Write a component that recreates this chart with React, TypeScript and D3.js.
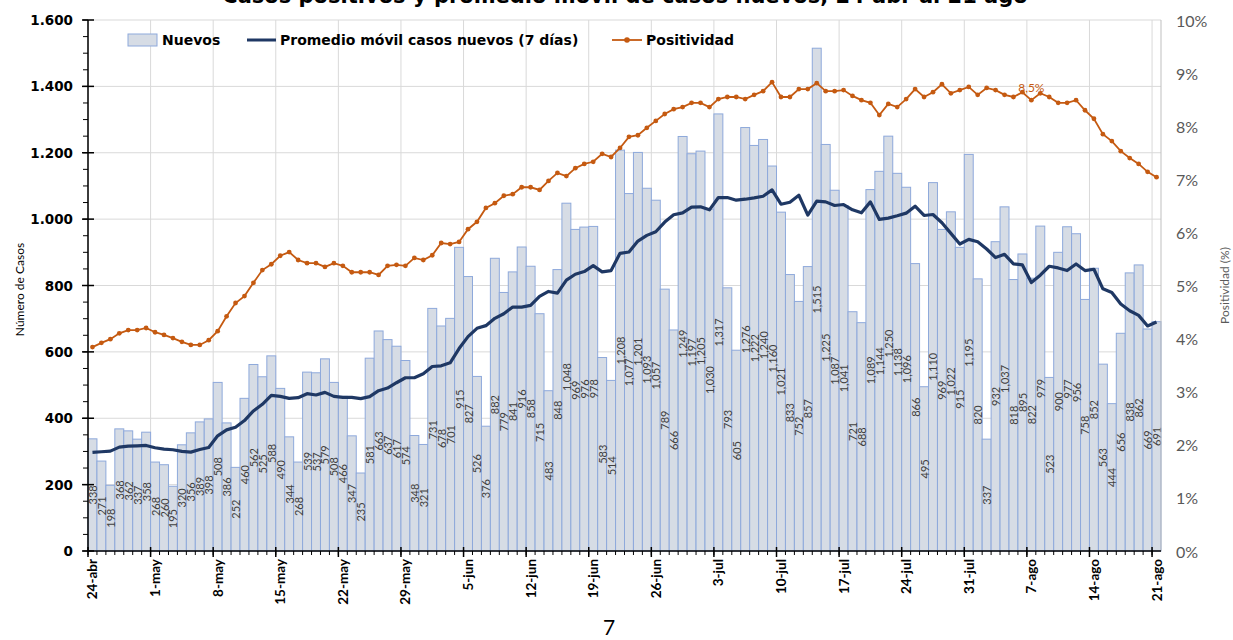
import React from "react";
import * as d3 from "d3";

const weekLabels = ["24-abr","1-may","8-may","15-may","22-may","29-may","5-jun","12-jun","19-jun","26-jun","3-jul","10-jul","17-jul","24-jul","31-jul","7-ago","14-ago","21-ago"];

const nuevos = [
  338,271,198,368,362,337,358,268,260,195,
  320,356,389,398,508,386,252,460,562,525,
  588,490,344,268,539,537,579,508,466,347,
  235,581,663,637,617,574,348,321,731,678,
  701,915,827,526,376,882,779,841,916,858,
  715,483,848,1048,969,976,978,583,514,1208,
  1077,1201,1093,1057,789,666,1249,1197,1205,1030,
  1317,793,605,1276,1222,1240,1160,1021,833,752,
  857,1515,1225,1087,1041,721,688,1089,1144,1250,
  1138,1096,866,495,1110,969,1022,915,1195,820,
  337,932,1037,818,895,822,979,523,900,977,
  956,758,852,563,444,656,838,862,669,691
];

const promedio = [
  297,299,301,313,316,317,318,311,307,305,
  300,298,306,312,347,365,373,393,422,442,
  469,466,460,462,474,470,478,466,463,463,
  459,465,483,491,507,522,522,534,556,558,
  567,610,646,671,679,701,715,735,735,740,
  767,782,777,816,834,842,860,841,845,897,
  901,934,951,962,991,1013,1019,1036,1037,1028,
  1065,1065,1057,1060,1064,1069,1088,1045,1051,1072,
  1012,1054,1052,1041,1044,1028,1019,1052,999,1003,
  1010,1018,1039,1011,1014,989,957,925,939,932,
  910,884,894,865,862,809,831,858,853,845,
  865,845,849,790,779,744,724,710,678,690
];

const positividad = [
  3.84,3.92,3.99,4.10,4.16,4.16,4.20,4.12,4.07,4.01,
  3.94,3.88,3.88,3.97,4.14,4.42,4.67,4.80,5.05,5.29,
  5.40,5.56,5.63,5.48,5.42,5.42,5.35,5.42,5.37,5.25,
  5.25,5.25,5.20,5.37,5.39,5.37,5.52,5.48,5.57,5.80,
  5.78,5.82,6.06,6.20,6.46,6.55,6.69,6.72,6.85,6.85,
  6.80,6.97,7.12,7.06,7.21,7.29,7.33,7.48,7.42,7.59,
  7.80,7.83,7.97,8.10,8.23,8.32,8.36,8.44,8.44,8.36,
  8.51,8.55,8.55,8.51,8.59,8.66,8.83,8.55,8.55,8.70,
  8.70,8.81,8.66,8.66,8.68,8.57,8.49,8.44,8.21,8.42,
  8.36,8.51,8.70,8.55,8.64,8.79,8.62,8.68,8.74,8.59,
  8.72,8.68,8.59,8.55,8.64,8.49,8.62,8.55,8.44,8.44,
  8.49,8.30,8.14,7.85,7.72,7.53,7.40,7.29,7.14,7.04
];

const leftTicks = [0,200,400,600,800,1000,1200,1400,1600];
const rightTicks = [0,1,2,3,4,5,6,7,8,9,10];
const highlightIndex = 105;
const highlightLabel = "8,5%";
const titleText = "Casos positivos y promedio móvil de casos nuevos, 24 abr al 21 ago";

const W = 1233, H = 640;
const X0 = 88, X1 = 1161, Y0 = 551, Y1 = 20;
const FONT = "Lato, 'Open Sans', sans-serif";
const DV = "'DejaVu Sans', Verdana, sans-serif";

export default function App() {
  const idx = d3.range(nuevos.length);
  const x = d3.scaleBand<number>().domain(idx).range([X0, X1]).padding(0);
  const y = d3.scaleLinear().domain([0, 1600]).range([Y0, Y1]);
  const yr = d3.scaleLinear().domain([0, 10]).range([Y0, Y1]);
  const bw = x.bandwidth();
  const cx = (i: number) => (x(i) as number) + bw / 2;
  const fmtES = (v: number) => d3.format(",")(v).replace(/,/g, ".");
  const fmtEN = d3.format(",");

  const avgLine = d3.line<number>().x((_, i) => cx(i)).y((d) => y(d));
  const posLine = d3.line<number>().x((_, i) => cx(i)).y((d) => yr(d));

  const minorLeft = d3.range(0, 1601, 50);
  const weekIdx = weekLabels.map((_, k) => k * 7);

  return (
    <svg width={W} height={H} style={{ position: "absolute", left: 0, top: 0, display: "block", background: "#fff" }} fontFamily={FONT}>
      {/* title, clipped at top as in the source */}
      <text x={625} y={3} textAnchor="middle" fontSize={21} fontWeight={700} fill="#000" fontFamily={DV}>
        {titleText}
      </text>

      {/* gridlines */}
      {leftTicks.filter((t) => t > 0).map((t) => (
        <line key={"hg" + t} x1={X0} x2={X1} y1={y(t)} y2={y(t)} stroke="#d9d9d9" strokeWidth={1} />
      ))}
      {weekIdx.map((i) => (
        <line key={"vg" + i} x1={x(i) as number} x2={x(i) as number} y1={Y1} y2={Y0} stroke="#d9d9d9" strokeWidth={1} />
      ))}

      {/* bars */}
      {nuevos.map((v, i) => (
        <rect key={"b" + i} x={x(i) as number} y={y(v)} width={bw} height={Y0 - y(v)} fill="#d6dce5" stroke="#8ea9db" strokeWidth={1} />
      ))}

      {/* bar labels */}
      {nuevos.map((v, i) => {
        const yc = (y(v) + Y0) / 2;
        const xc = cx(i);
        return (
          <text key={"bl" + i} transform={`translate(${xc},${yc}) rotate(-90)`} textAnchor="middle" dominantBaseline="central" fontSize={11} fill="#404040">
            {fmtEN(v)}
          </text>
        );
      })}

      {/* moving average */}
      <path d={avgLine(promedio) || ""} fill="none" stroke="#1f3864" strokeWidth={3.2} strokeLinejoin="round" />

      {/* positivity */}
      <path d={posLine(positividad) || ""} fill="none" stroke="#c55a11" strokeWidth={1.8} />
      {positividad.map((p, i) => (
        <circle key={"pc" + i} cx={cx(i)} cy={yr(p)} r={2.4} fill="#c55a11" />
      ))}
      <text x={cx(highlightIndex)} y={yr(positividad[highlightIndex]) - 8} textAnchor="middle" fontSize={12} fill="#c55a11">
        {highlightLabel}
      </text>

      {/* left axis */}
      <line x1={X0} x2={X0} y1={Y1} y2={Y0} stroke="#000" strokeWidth={1.5} />
      {minorLeft.map((t) => (
        <line key={"lm" + t} x1={X0 - 5} x2={X0} y1={y(t)} y2={y(t)} stroke="#000" strokeWidth={1} />
      ))}
      {leftTicks.map((t) => (
        <g key={"lt" + t}>
          <line x1={X0 - 6} x2={X0 + 6} y1={y(t)} y2={y(t)} stroke="#000" strokeWidth={1.5} />
          <text x={X0 - 15} y={y(t)} textAnchor="end" dominantBaseline="central" fontSize={13.5} fontWeight={700} fill="#000" fontFamily={DV}>
            {fmtES(t)}
          </text>
        </g>
      ))}
      <text transform={`translate(19,${(Y0 + Y1) / 2 + 4}) rotate(-90)`} textAnchor="middle" dominantBaseline="central" fontSize={12} fill="#000">
        Número de Casos
      </text>

      {/* right axis */}
      <line x1={X1} x2={X1} y1={Y1} y2={Y0} stroke="#bfbfbf" strokeWidth={1} />
      {rightTicks.map((t) => (
        <text key={"rt" + t} x={1176} y={yr(t)} textAnchor="start" dominantBaseline="central" fontSize={16} fill="#595959">
          {t + "%"}
        </text>
      ))}
      <text transform={`translate(1224,${(Y0 + Y1) / 2}) rotate(-90)`} textAnchor="middle" dominantBaseline="central" fontSize={12} fill="#595959">
        Positividad (%)
      </text>

      {/* bottom axis */}
      <line x1={X0} x2={X1} y1={Y0} y2={Y0} stroke="#000" strokeWidth={1.5} />
      {idx.map((i) => (
        <line key={"bm" + i} x1={x(i) as number} x2={x(i) as number} y1={Y0} y2={Y0 + 4} stroke="#000" strokeWidth={1} />
      ))}
      {weekIdx.map((i, k) => (
        <g key={"wt" + i}>
          <line x1={x(i) as number} x2={x(i) as number} y1={Y0 - 4} y2={Y0 + 6} stroke="#000" strokeWidth={1.5} />
          <text transform={`translate(${cx(i) + 5},${Y0 + 8}) rotate(-90)`} textAnchor="end" fontSize={13.5} fontWeight={700} fill="#000">
            {weekLabels[k]}
          </text>
        </g>
      ))}

      {/* legend */}
      <rect x={128} y={34} width={29} height={12} fill="#d6dce5" stroke="#8ea9db" strokeWidth={1} />
      <text x={162} y={40} dominantBaseline="central" fontSize={14} fontWeight={700} fill="#000" fontFamily={DV}>Nuevos</text>
      <line x1={247} x2={276} y1={40} y2={40} stroke="#1f3864" strokeWidth={3} />
      <text x={280} y={40} dominantBaseline="central" fontSize={14} fontWeight={700} fill="#000" fontFamily={DV}>Promedio móvil casos nuevos (7 días)</text>
      <line x1={612} x2={642} y1={40} y2={40} stroke="#c55a11" strokeWidth={1.8} />
      <circle cx={627} cy={40} r={2.8} fill="#c55a11" />
      <text x={646} y={40} dominantBaseline="central" fontSize={14} fontWeight={700} fill="#000" fontFamily={DV}>Positividad</text>

      {/* page number */}
      <text x={609} y={635} textAnchor="middle" fontSize={21} fill="#000">7</text>
    </svg>
  );
}
